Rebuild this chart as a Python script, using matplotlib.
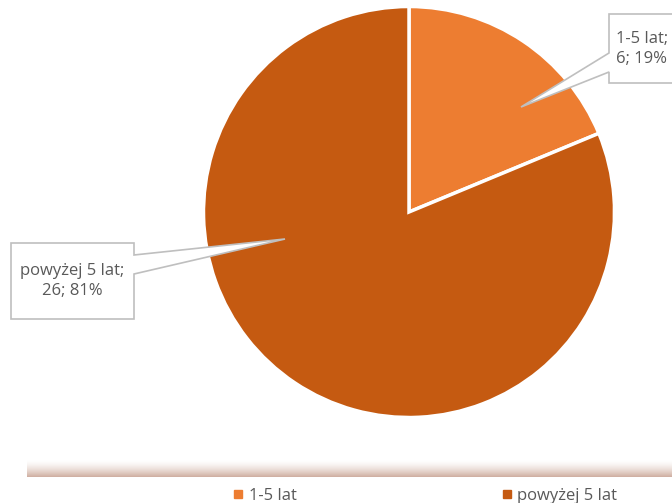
import numpy as np
import matplotlib.pyplot as plt
from matplotlib.patches import Polygon
from matplotlib.lines import Line2D

# --- DATA ---
labels = ["1-5 lat", "powyżej 5 lat"]
values = [6, 26]
colors = ["#ED7D31", "#C55A11"]

W, H = 672, 503
TXT = "#595959"
FS = 12
plt.rcParams['font.family'] = ['Open Sans', 'DejaVu Sans']

fig = plt.figure(figsize=(W / 100, H / 100), dpi=100)
ax = fig.add_axes([0, 0, 1, 1])
ax.set_xlim(0, W)
ax.set_ylim(0, H)
ax.set_aspect('equal')
ax.axis('off')


def py(y):
    # pixel row -> data y
    return H - y


# --- PIE ---
wedges, _ = ax.pie(values, colors=colors, startangle=90, counterclock=False,
                   center=(409, py(212)), radius=205.5,
                   wedgeprops=dict(edgecolor='white', linewidth=2.5))
ax.set_xlim(0, W)
ax.set_ylim(0, H)

total = sum(values)
pct = [round(v / total * 100) for v in values]


def callout(pts, text, tx, ty, ha):
    poly = Polygon([(x, py(y)) for x, y in pts], closed=True, facecolor='white',
                   edgecolor='#BFBFBF', linewidth=1.2, zorder=5)
    ax.add_patch(poly)
    ax.text(tx, py(ty), text, ha=ha, va='center', color=TXT, fontsize=FS,
            linespacing=1.4, zorder=6)


callout([(609, 14), (690, 14), (690, 83), (609, 83), (609, 72), (521, 107), (609, 53)],
        f"{labels[0]};\n{values[0]}; {pct[0]}%", 642, 49, 'center')
callout([(11, 243), (134, 243), (134, 255), (285, 239), (134, 274), (134, 319), (11, 319)],
        f"{labels[1]};\n{values[1]}; {pct[1]}%", 72, 281, 'center')

# --- LEGEND AREA (shadowed band) ---
grad = np.linspace(0, 1, 50).reshape(-1, 1) ** 1.5
base = np.array([1.0, 1.0, 1.0])
shade = np.array([0xCF, 0xAE, 0xA0]) / 255.0
img = base + (shade - base) * grad[:, :, None] * np.ones((1, 10, 1))
ax.imshow(img, extent=(27, W, py(477), py(460)), aspect='auto', zorder=1)
ax.set_xlim(0, W)
ax.set_ylim(0, H)

handles = [Line2D([], [], marker='s', linestyle='none', markersize=5.5,
                  markerfacecolor=c, markeredgecolor=c) for c in colors]
leg = ax.legend(handles, labels, loc='center left', bbox_to_anchor=(227 / W, 1 - 496 / H),
                ncol=2, frameon=False, fontsize=FS, handlelength=0.5,
                handletextpad=0.4, columnspacing=12.35, borderaxespad=0)
for t in leg.get_texts():
    t.set_color(TXT)

fig.savefig("out.png", dpi=100)
